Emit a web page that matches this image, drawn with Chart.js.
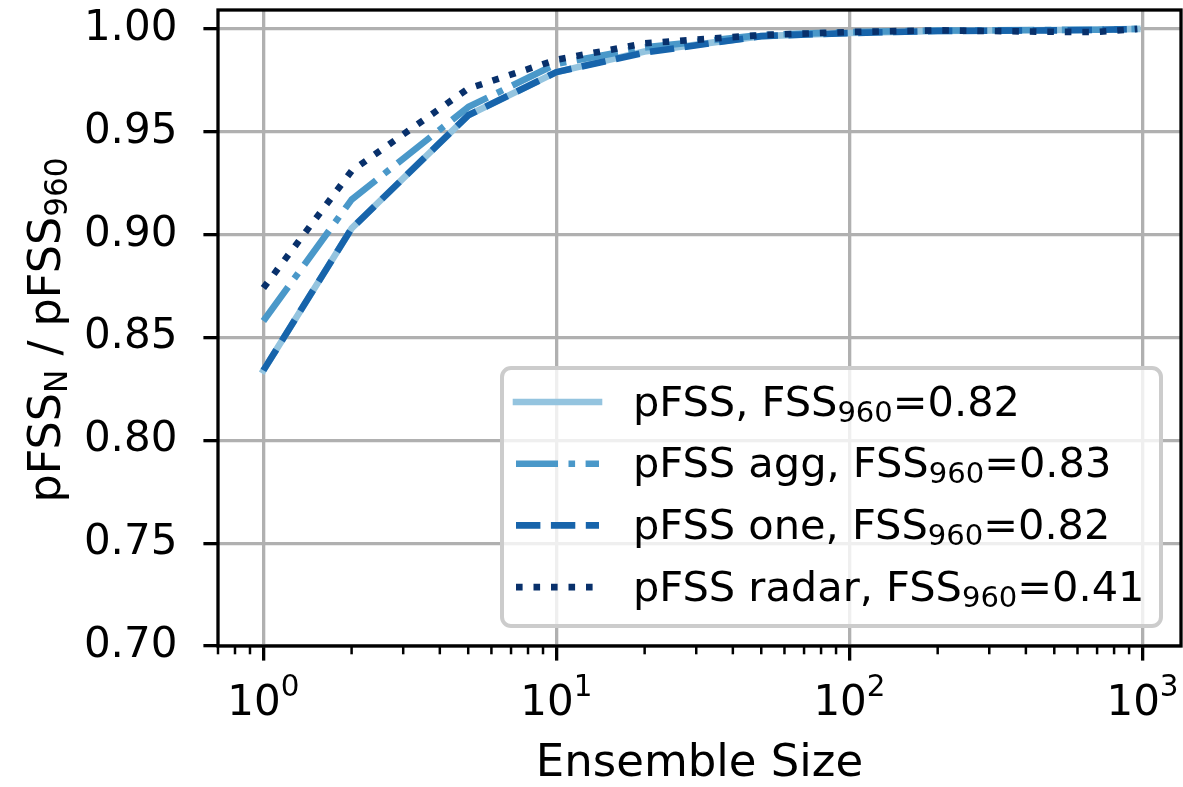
<!DOCTYPE html>
<html>
<head>
<meta charset="utf-8">
<script src="https://cdn.jsdelivr.net/npm/chart.js@4.4.1/dist/chart.umd.min.js"></script>
<style>
  html, body { margin: 0; padding: 0; background: #fff; }
  #wrap { width: 1183px; height: 787px; }
</style>
</head>
<body>
<div id="wrap"><canvas id="chart" width="1183" height="787"></canvas></div>
<script>
// Data
const ensembleSizes = [1, 2, 5, 10, 20, 50, 100, 200, 500, 700, 960];
const pfssAll   = [0.834, 0.903, 0.958, 0.979, 0.989, 0.9965, 0.998, 0.999, 0.9995, 0.9996, 1.0];
const pfssAgg   = [0.858, 0.917, 0.962, 0.983, 0.991, 0.997, 0.9985, 0.9992, 0.9995, 0.9996, 1.0];
const pfssOne   = [0.834, 0.903, 0.958, 0.979, 0.9885, 0.9965, 0.998, 0.999, 0.9993, 0.9995, 1.0];
const pfssRadar = [0.874, 0.931, 0.971, 0.985, 0.993, 0.997, 0.9985, 0.9993, 0.9986, 0.9985, 1.0];

const seriesLabels = [
  'pFSS, FSS_{960}=0.82',
  'pFSS agg, FSS_{960}=0.83',
  'pFSS one, FSS_{960}=0.82',
  'pFSS radar, FSS_{960}=0.41'
];
const xMajorTicks = [1, 10, 100, 1000];
const xTickLabels = ['10^{0}', '10^{1}', '10^{2}', '10^{3}'];
const yTicks = [0.70, 0.75, 0.80, 0.85, 0.90, 0.95, 1.00];
const xTitle = 'Ensemble Size';
const yTitle = 'pFSS_{N} / pFSS_{960}';

const FONT = '"DejaVu Sans", sans-serif';
const FS = 42;
const LW = 6.6;

function toPoints(arr) {
  return ensembleSizes.map((n, i) => ({ x: n, y: arr[i] }));
}

// split "a_{b}c^{d}" into plain / sub / sup pieces
function parseRich(s) {
  const parts = [];
  const re = /([_^])\{([^}]*)\}/g;
  let last = 0, m;
  while ((m = re.exec(s))) {
    if (m.index > last) parts.push({ t: s.slice(last, m.index), k: 0 });
    parts.push({ t: m[2], k: m[1] === '_' ? 1 : 2 });
    last = re.lastIndex;
  }
  if (last < s.length) parts.push({ t: s.slice(last), k: 0 });
  return parts;
}

function drawRich(ctx, s, x, y, size, align) {
  const parts = parseRich(s);
  const small = size * 0.7;
  let total = 0;
  parts.forEach(p => {
    ctx.font = (p.k ? small : size) + 'px ' + FONT;
    p.w = ctx.measureText(p.t).width;
    total += p.w;
  });
  if (align === 'center') x -= total / 2;
  ctx.textAlign = 'left';
  ctx.textBaseline = 'alphabetic';
  parts.forEach(p => {
    ctx.font = (p.k ? small : size) + 'px ' + FONT;
    const dy = p.k === 1 ? size * 0.15 : p.k === 2 ? -size * 0.45 : 0;
    ctx.fillText(p.t, x, y + dy);
    x += p.w;
  });
}

const datasets = [
  { label: seriesLabels[0], data: toPoints(pfssAll), borderColor: '#94c4df', borderDash: [], borderCapStyle: 'square', order: 4 },
  { label: seriesLabels[1], data: toPoints(pfssAgg), borderColor: '#4a98c9', borderDash: [42, 10.5, 6.6, 10.5], borderCapStyle: 'butt', order: 3 },
  { label: seriesLabels[2], data: toPoints(pfssOne), borderColor: '#1764ab', borderDash: [24.4, 10.5], borderCapStyle: 'butt', order: 2 },
  { label: seriesLabels[3], data: toPoints(pfssRadar), borderColor: '#08306b', borderDash: [6.6, 10.9], borderCapStyle: 'butt', order: 1 }
].map(d => Object.assign(d, {
  borderWidth: LW, pointRadius: 0, tension: 0, fill: false, borderJoinStyle: 'round'
}));

// frame, minor ticks, tick labels, axis titles and legend
const decorPlugin = {
  id: 'decor',
  afterDatasetsDraw(chart) {
    const ctx = chart.ctx;
    const a = chart.chartArea;
    const xs = chart.scales.x;
    ctx.save();
    // minor ticks on the log axis
    ctx.strokeStyle = '#000';
    ctx.lineWidth = 2.5;
    for (let d = -1; d <= 3; d++) {
      for (let k = 2; k <= 9; k++) {
        const v = k * Math.pow(10, d);
        if (v < xs.min || v > xs.max) continue;
        const px = xs.getPixelForValue(v);
        ctx.beginPath();
        ctx.moveTo(px, a.bottom);
        ctx.lineTo(px, a.bottom + 8.3);
        ctx.stroke();
      }
    }
    // frame
    ctx.lineWidth = 3.3;
    ctx.strokeRect(a.left, a.top, a.right - a.left, a.bottom - a.top);
    ctx.restore();
  },
  afterDraw(chart) {
    const ctx = chart.ctx;
    const a = chart.chartArea;
    const xs = chart.scales.x;
    ctx.save();
    ctx.fillStyle = '#000';
    // x tick labels with real superscripts
    xs.ticks.forEach((t, i) => {
      drawRich(ctx, xTickLabels[i], xs.getPixelForValue(t.value), 715, FS, 'center');
    });
    // axis titles
    drawRich(ctx, xTitle, (a.left + a.right) / 2, 776, 45, 'center');
    ctx.save();
    ctx.translate(60, (a.top + a.bottom) / 2 + 2);
    ctx.rotate(-Math.PI / 2);
    drawRich(ctx, yTitle, 0, 0, 44.5, 'center');
    ctx.restore();

    // legend box
    const bx = 502, by = 368, bw = 659, bh = 258, r = 9;
    ctx.beginPath();
    ctx.moveTo(bx + r, by);
    ctx.arcTo(bx + bw, by, bx + bw, by + bh, r);
    ctx.arcTo(bx + bw, by + bh, bx, by + bh, r);
    ctx.arcTo(bx, by + bh, bx, by, r);
    ctx.arcTo(bx, by, bx + bw, by, r);
    ctx.closePath();
    ctx.fillStyle = 'rgba(255,255,255,0.8)';
    ctx.fill();
    ctx.strokeStyle = '#cccccc';
    ctx.lineWidth = 4;
    ctx.stroke();

    chart.data.datasets.forEach((ds, i) => {
      const cy = 402 + i * 61.7;
      ctx.save();
      ctx.strokeStyle = ds.borderColor;
      ctx.lineWidth = ds.borderWidth;
      ctx.lineCap = ds.borderCapStyle;
      ctx.setLineDash(ds.borderDash);
      ctx.beginPath();
      ctx.moveTo(516, cy);
      ctx.lineTo(599, cy);
      ctx.stroke();
      ctx.restore();
      ctx.fillStyle = '#000';
      drawRich(ctx, ds.label, 633, cy + 13.5, 41.5, 'left');
    });
    ctx.restore();
  }
};

new Chart(document.getElementById('chart'), {
  type: 'line',
  data: { datasets: datasets },
  options: {
    responsive: false,
    devicePixelRatio: 1,
    animation: false,
    layout: { padding: { top: 10, right: 2, left: 0, bottom: 0 } },
    plugins: { legend: { display: false }, tooltip: { enabled: false } },
    scales: {
      x: {
        type: 'logarithmic',
        min: Math.pow(10, -0.1491),
        max: Math.pow(10, 3.1314),
        afterBuildTicks: s => { s.ticks = xMajorTicks.map(v => ({ value: v })); },
        afterFit: s => { s.height = 141; s.paddingLeft = 0; s.paddingRight = 0; },
        border: { display: false },
        grid: { color: '#b0b0b0', lineWidth: 3.3, drawTicks: true, tickLength: 14.6, tickColor: '#000', tickWidth: 3.3 },
        ticks: { display: false }
      },
      y: {
        type: 'linear',
        min: 0.70,
        max: 1.0092,
        afterBuildTicks: s => { s.ticks = yTicks.map(v => ({ value: v })); },
        afterFit: s => { s.width = 218; s.paddingTop = 0; s.paddingBottom = 0; },
        border: { display: false },
        grid: { color: '#b0b0b0', lineWidth: 3.3, drawTicks: true, tickLength: 14.6, tickColor: '#000', tickWidth: 3.3 },
        ticks: {
          padding: 26, color: '#000',
          font: { family: 'DejaVu Sans', size: FS },
          callback: v => v.toFixed(2)
        }
      }
    }
  },
  plugins: [decorPlugin]
});
</script>
</body>
</html>
